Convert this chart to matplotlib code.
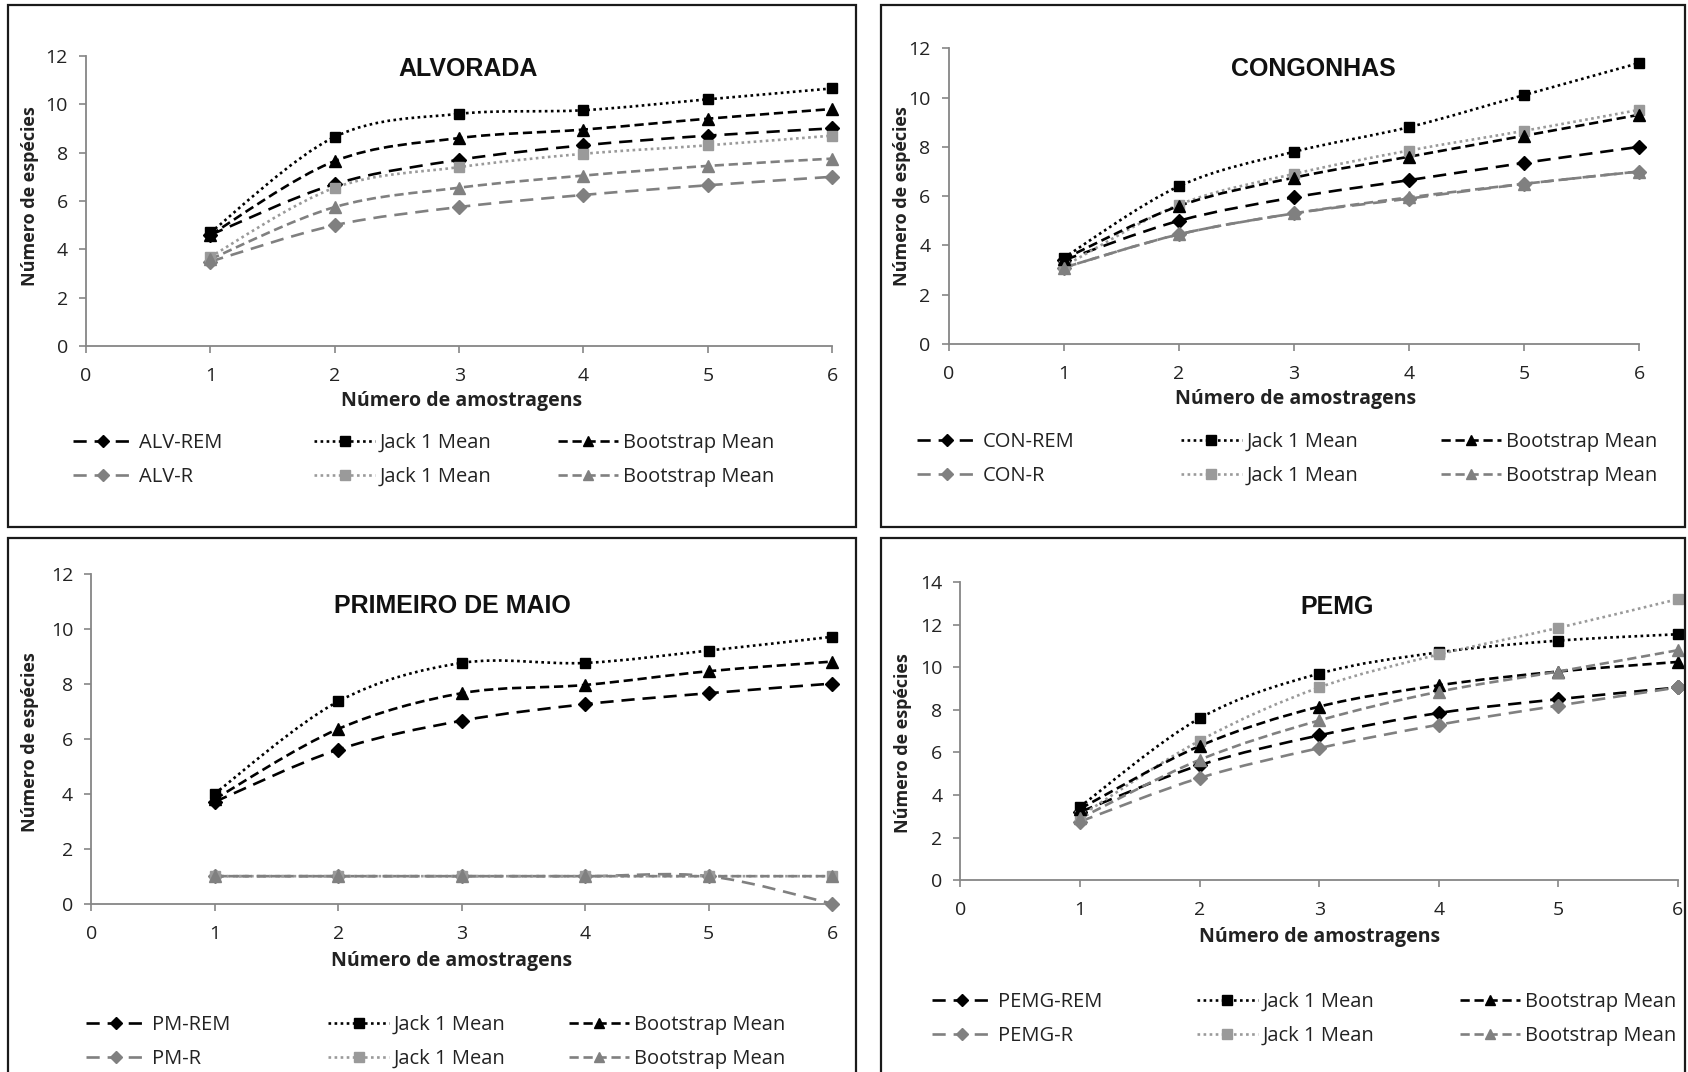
import matplotlib

matplotlib.use("Agg")
import matplotlib.pyplot as plt
import numpy as np
from matplotlib.lines import Line2D
from matplotlib.patches import PathPatch, Rectangle
from matplotlib.path import Path

plt.rcParams["font.family"] = ["Open Sans", "DejaVu Sans"]

samples = [1, 2, 3, 4, 5, 6]
x_ticks = [0, 1, 2, 3, 4, 5, 6]

# ALVORADA
alv_rem = [4.6, 6.7, 7.7, 8.3, 8.7, 9.0]
alv_rem_jack = [4.7, 8.65, 9.6, 9.75, 10.2, 10.65]
alv_rem_boot = [4.6, 7.65, 8.6, 8.95, 9.4, 9.8]
alv_r = [3.5, 5.0, 5.75, 6.25, 6.65, 7.0]
alv_r_jack = [3.7, 6.55, 7.4, 7.95, 8.3, 8.7]
alv_r_boot = [3.6, 5.75, 6.55, 7.05, 7.45, 7.75]

# CONGONHAS
con_rem = [3.4, 5.0, 5.95, 6.65, 7.35, 8.0]
con_rem_jack = [3.5, 6.4, 7.8, 8.8, 10.1, 11.4]
con_rem_boot = [3.45, 5.6, 6.75, 7.6, 8.45, 9.3]
con_r = [3.1, 4.45, 5.3, 5.9, 6.5, 7.0]
con_r_jack = [3.15, 5.65, 6.9, 7.85, 8.65, 9.5]
con_r_boot = [3.1, 4.45, 5.3, 5.95, 6.5, 7.0]

# PRIMEIRO DE MAIO
pm_rem = [3.7, 5.6, 6.65, 7.25, 7.65, 8.0]
pm_rem_jack = [4.0, 7.35, 8.75, 8.75, 9.2, 9.7]
pm_rem_boot = [3.8, 6.35, 7.65, 7.95, 8.45, 8.8]
pm_r = [1, 1, 1, 1, 1, 0]
pm_r_jack = [1, 1, 1, 1, 1, 1]
pm_r_boot = [1, 1, 1, 1, 1, 1]

# PEMG
pemg_rem = [3.2, 5.4, 6.8, 7.85, 8.5, 9.05]
pemg_rem_jack = [3.45, 7.6, 9.7, 10.7, 11.25, 11.55]
pemg_rem_boot = [3.35, 6.3, 8.15, 9.15, 9.8, 10.25]
pemg_r = [2.75, 4.8, 6.2, 7.3, 8.2, 9.05]
pemg_r_jack = [3.0, 6.55, 9.05, 10.6, 11.85, 13.2]
pemg_r_boot = [2.9, 5.65, 7.5, 8.85, 9.8, 10.8]

titles = ["ALVORADA", "CONGONHAS", "PRIMEIRO DE MAIO", "PEMG"]
site_codes = ["ALV", "CON", "PM", "PEMG"]
y_limits = [12, 12, 12, 14]

BLACK = "#000000"
GRAY = "#808080"
LIGHT_GRAY = "#9a9a9a"
AXIS_GRAY = "#868686"

# order: REM, R, Jack REM, Jack R, Boot REM, Boot R
series_styles = [
    dict(color=BLACK, dash=(5, 3), marker="D", ms=7.5),
    dict(color=GRAY, dash=(5, 3), marker="D", ms=7.5),
    dict(color=BLACK, dash=(1, 1.3), marker="s", ms=7.5),
    dict(color=LIGHT_GRAY, dash=(1, 1.3), marker="s", ms=7.5),
    dict(color=BLACK, dash=(3.5, 1.8), marker="^", ms=8.5),
    dict(color=GRAY, dash=(3.5, 1.8), marker="^", ms=8.5),
]

axes_rects = [
    [0.051, 0.677, 0.442, 0.271],
    [0.562, 0.679, 0.409, 0.276],
    [0.054, 0.157, 0.439, 0.308],
    [0.569, 0.179, 0.425, 0.278],
]
box_rects = [
    (0.005, 0.508, 0.502, 0.487),
    (0.522, 0.508, 0.476, 0.487),
    (0.005, -0.01, 0.502, 0.508),
    (0.522, -0.01, 0.476, 0.508),
]
title_pos = [(0.512, 0.955), (0.528, 0.93), (0.487, 0.903), (0.525, 0.918)]
xlabel_pos = [(0.503, -0.19), (0.502, -0.185), (0.487, -0.175), (0.5, -0.192)]
ylabel_pos = [(-0.075, 0.517), (-0.068, 0.50), (-0.083, 0.488), (-0.08, 0.46)]
legend_cols_x = [
    (0.0434, 0.1862, 0.3304),
    (0.5434, 0.6997, 0.8534),
    (0.0510, 0.1945, 0.3368),
    (0.5523, 0.7092, 0.8648),
]
legend_top = [0.596, 0.597, 0.053, 0.0745]


def smooth_path(x, y):
    """Excel-style smoothed line: Catmull-Rom segments as cubic Beziers."""
    pts = np.column_stack([x, y]).astype(float)
    padded = np.vstack([pts[0], pts, pts[-1]])
    verts = [pts[0]]
    codes = [Path.MOVETO]
    for i in range(len(pts) - 1):
        p0, p1, p2, p3 = padded[i], padded[i + 1], padded[i + 2], padded[i + 3]
        verts += [p1 + (p2 - p0) / 6.0, p2 - (p3 - p1) / 6.0, p2]
        codes += [Path.CURVE4] * 3
    return Path(verts, codes)


panel_series = [
    [alv_rem, alv_r, alv_rem_jack, alv_r_jack, alv_rem_boot, alv_r_boot],
    [con_rem, con_r, con_rem_jack, con_r_jack, con_rem_boot, con_r_boot],
    [pm_rem, pm_r, pm_rem_jack, pm_r_jack, pm_rem_boot, pm_r_boot],
    [pemg_rem, pemg_r, pemg_rem_jack, pemg_r_jack, pemg_rem_boot, pemg_r_boot],
]

fig = plt.figure(figsize=(16.88, 10.72), dpi=100)
lw = 1.9

for idx in range(4):
    fig.patches.append(
        Rectangle(box_rects[idx][:2], box_rects[idx][2], box_rects[idx][3],
                  transform=fig.transFigure, fill=False, edgecolor="#1a1a1a",
                  linewidth=1.6, zorder=0)
    )

    ax = fig.add_axes(axes_rects[idx])
    handles = []
    for values, style in zip(panel_series[idx], series_styles):
        patch = PathPatch(smooth_path(samples, values), fill=False,
                          edgecolor=style["color"], linewidth=lw,
                          linestyle=(0, style["dash"]), zorder=2)
        ax.add_patch(patch)
        ax.plot(samples, values, linestyle="none", marker=style["marker"],
                markersize=style["ms"], color=style["color"], zorder=3,
                clip_on=False)
        handles.append(Line2D([], [], color=style["color"], linewidth=lw,
                              linestyle=(0, style["dash"]), marker=style["marker"],
                              markersize=style["ms"] - 1))

    ax.set_xlim(0, 6)
    ax.set_ylim(0, y_limits[idx])
    ax.set_xticks(x_ticks)
    ax.set_yticks(np.arange(0, y_limits[idx] + 1, 2))
    for side in ("top", "right"):
        ax.spines[side].set_visible(False)
    for side in ("left", "bottom"):
        ax.spines[side].set_color(AXIS_GRAY)
        ax.spines[side].set_linewidth(1.3)
    ax.tick_params(axis="both", colors=AXIS_GRAY, labelcolor="#222222",
                   labelsize=14, length=5, width=1.2)
    ax.tick_params(axis="x", pad=10)
    ax.tick_params(axis="y", pad=8)

    ax.text(*title_pos[idx], titles[idx], transform=ax.transAxes,
            ha="center", va="center", fontsize=18, fontweight="bold",
            family=["Liberation Sans", "DejaVu Sans"], color="#111111")
    ax.set_xlabel("Número de amostragens", fontsize=14, fontweight="bold",
                  va="center", color="#222222")
    ax.xaxis.set_label_coords(*xlabel_pos[idx])
    ax.set_ylabel("Número de espécies", fontsize=13, fontweight="bold",
                  va="center", color="#222222")
    ax.yaxis.set_label_coords(*ylabel_pos[idx])

    code = site_codes[idx]
    labels = [f"{code}-REM", f"{code}-R", "Jack 1 Mean", "Jack 1 Mean",
              "Bootstrap Mean", "Bootstrap Mean"]
    for col in range(3):
        fig.legend(handles[2 * col:2 * col + 2], labels[2 * col:2 * col + 2],
                   loc="upper left",
                   bbox_to_anchor=(legend_cols_x[idx][col], legend_top[idx]),
                   ncol=1, frameon=False, fontsize=14.5, handlelength=3.0,
                   handletextpad=0.25, labelspacing=0.69, borderpad=0,
                   borderaxespad=0, numpoints=1, labelcolor="#222222")

fig.savefig("out.png", dpi=100)
